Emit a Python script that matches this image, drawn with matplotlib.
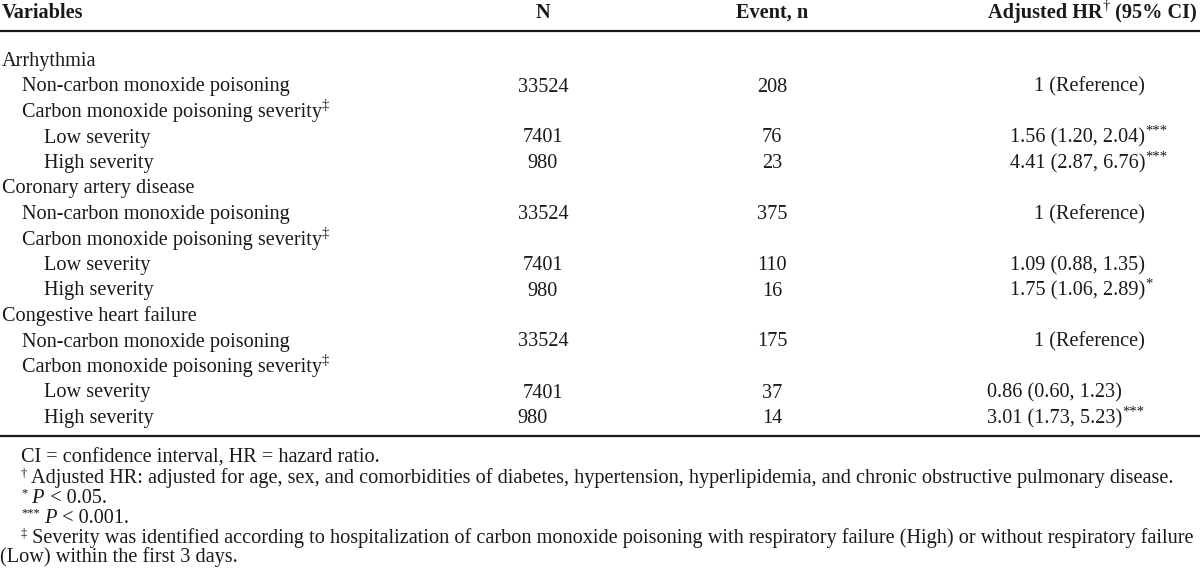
import matplotlib
matplotlib.use('Agg')
import matplotlib.pyplot as plt

plt.rcParams['font.family'] = ['Liberation Serif', 'DejaVu Serif']

# --- table content ---
row_labels = [
    "Arrhythmia",
    "Non-carbon monoxide poisoning",
    "Carbon monoxide poisoning severity",
    "Low severity",
    "High severity",
    "Coronary artery disease",
    "Non-carbon monoxide poisoning",
    "Carbon monoxide poisoning severity",
    "Low severity",
    "High severity",
    "Congestive heart failure",
    "Non-carbon monoxide poisoning",
    "Carbon monoxide poisoning severity",
    "Low severity",
    "High severity",
]
row_levels = [0, 1, 1, 2, 2, 0, 1, 1, 2, 2, 0, 1, 1, 2, 2]
label_marks = ["", "", "\u2021", "", "", "", "", "\u2021", "", "", "", "", "\u2021", "", ""]
n_values = ["", "33524", "", "7401", "980", "", "33524", "", "7401", "980", "", "33524", "", "7401", "980"]
event_values = ["", "208", "", "76", "23", "", "375", "", "110", "16", "", "175", "", "37", "14"]
hr_values = ["", "1 (Reference)", "", "1.56 (1.20, 2.04)", "4.41 (2.87, 6.76)",
             "", "1 (Reference)", "", "1.09 (0.88, 1.35)", "1.75 (1.06, 2.89)",
             "", "1 (Reference)", "", "0.86 (0.60, 1.23)", "3.01 (1.73, 5.23)"]
hr_marks = ["", "", "", "***", "***", "", "", "", "", "*", "", "", "", "", "***"]

header_labels = ["Variables", "N", "Event, n"]

footnote_parts = [
    [("CI = confidence interval, HR = hazard ratio.", "rm")],
    [("\u2020", "sup"), (" Adjusted HR: adjusted for age, sex, and comorbidities of diabetes, "
                         "hypertension, hyperlipidemia, and chronic obstructive pulmonary disease.", "rm")],
    [("*", "sup"), (" P", "it"), (" < 0.05.", "rm")],
    [("***", "sup"), (" P", "it"), (" < 0.001.", "rm")],
    [("\u2021", "sup"), (" Severity was identified according to hospitalization of carbon monoxide "
                         "poisoning with respiratory failure (High) or without respiratory failure", "rm")],
    [("(Low) within the first 3 days.", "rm")],
]

# --- layout ---
FS = 14.6
SUP = 10.5
SUP_FOOT = 9
INK = "#1a1a1a"

fig = plt.figure(figsize=(12, 5.81), dpi=100)
ax = fig.add_axes([0, 0, 1, 1])
ax.set_xlim(0, 1200)
ax.set_ylim(581, 0)
ax.axis("off")


def chain(x, y, parts, ha="left", sup_size=SUP, sup_rise=5.5):
    # draws pieces one after another on a shared baseline
    seq = parts if ha == "left" else parts[::-1]
    prev = None
    for s, kind in seq:
        kw = dict(fontsize=FS, color=INK, ha=ha, va="baseline",
                  textcoords="offset points")
        rise = 0
        if kind == "bf":
            kw["fontweight"] = "bold"
        elif kind == "it":
            kw["fontstyle"] = "italic"
        elif kind == "sup":
            kw["fontsize"] = sup_size
            rise = sup_rise
        if prev is None:
            prev = ax.annotate(s, xy=(x, y), xytext=(0, rise), **kw)
        else:
            fx = 1 if ha == "left" else 0
            prev = ax.annotate(s, xy=(fx, y), xycoords=(prev, "data"), xytext=(0, rise), **kw)
    return prev


# header
head_y = 18
ax.text(2, head_y, header_labels[0], fontsize=FS, fontweight="bold", color=INK, va="baseline")
ax.text(543, head_y, header_labels[1], fontsize=FS, fontweight="bold", color=INK, va="baseline", ha="center")
ax.text(772, head_y, header_labels[2], fontsize=FS, fontweight="bold", color=INK, va="baseline", ha="center")
chain(1197, head_y, [("Adjusted HR", "bf"), ("\u2020", "sup"), (" (95% CI)", "bf")], ha="right")

ax.axhline(31, color=INK, lw=1.6)
ax.axhline(436, color=INK, lw=1.6)

# body rows
first_y, step = 66, 25.5
indent = [2, 22, 44]
for i, lab in enumerate(row_labels):
    y = first_y + i * step
    parts = [(lab, "rm")]
    if label_marks[i]:
        parts.append((label_marks[i], "sup"))
    chain(indent[row_levels[i]], y, parts)

    if n_values[i]:
        # the last N cell is set flush left in the source table
        if i == len(row_labels) - 1:
            ax.text(517, y, n_values[i], fontsize=FS, color=INK, va="baseline", ha="left")
        else:
            ax.text(543, y, n_values[i], fontsize=FS, color=INK, va="baseline", ha="center")
    if event_values[i]:
        ax.text(772, y, event_values[i], fontsize=FS, color=INK, va="baseline", ha="center")
    if hr_values[i]:
        right = 1122 if i >= 13 else 1145
        t = ax.text(right, y, hr_values[i], fontsize=FS, color=INK, va="baseline", ha="right")
        if hr_marks[i]:
            ax.annotate(hr_marks[i], xy=(1, y), xycoords=(t, "data"), xytext=(0.5, 5.5),
                        textcoords="offset points", fontsize=SUP, color=INK,
                        ha="left", va="baseline")

# footnotes
foot_y = [463, 483, 503, 523, 543, 562]
foot_x = [21, 21, 21, 21, 21, 0]
for fx, fy, parts in zip(foot_x, foot_y, footnote_parts):
    chain(fx, fy, parts, sup_size=SUP_FOOT, sup_rise=4.5)

plt.savefig("out.png", dpi=100)
plt.close()
